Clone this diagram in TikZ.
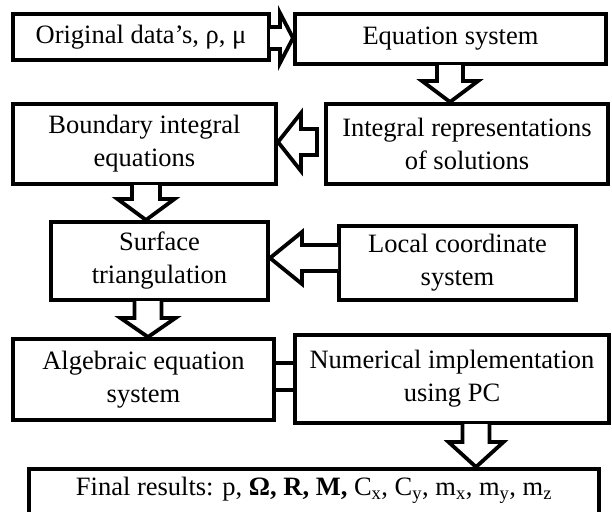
\documentclass[tikz,border=0pt]{standalone}
\usepackage{fontspec}
\setmainfont{Liberation Serif}
\usetikzlibrary{calc}
\tikzset{
  box/.style={draw=black, line width=4pt, fill=white, rectangle, align=center,
    inner sep=0pt, font=\fontsize{26.5}{33}\selectfont},
  txt/.style={inner sep=0pt, align=center, font=\fontsize{26.5}{33}\selectfont},
  blk/.style={draw=black, fill=white, line width=3.8pt, line join=miter},
  conn/.style={draw=black, line width=4.5pt},
}
\newcommand{\blkdown}[6]{%
  \draw[blk] let \p1=(#1.south), \p2=(#2.north) in
  (#3pt-#4pt,\y1+1pt) -- (#3pt-#4pt,\y2+#6pt) -- (#3pt-#5pt,\y2+#6pt) -- (#3pt,\y2)
  -- (#3pt+#5pt,\y2+#6pt) -- (#3pt+#4pt,\y2+#6pt) -- (#3pt+#4pt,\y1+1pt);}
\newcommand{\blkleft}[6]{%
  \draw[blk] let \p1=(#1.west), \p2=(#2.east) in
  (\x1+1pt,#3pt+#4pt) -- (\x2+#6pt,#3pt+#4pt) -- (\x2+#6pt,#3pt+#5pt) -- (\x2,#3pt)
  -- (\x2+#6pt,#3pt-#5pt) -- (\x2+#6pt,#3pt-#4pt) -- (\x1+1pt,#3pt-#4pt);}
\newcommand{\blkleftgap}[7]{%
  \draw[blk] let \p1=(#1.west), \p2=(#2.east) in
  (\x1-#7pt,#3pt+#4pt) -- (\x2+#6pt,#3pt+#4pt) -- (\x2+#6pt,#3pt+#5pt) -- (\x2,#3pt)
  -- (\x2+#6pt,#3pt-#5pt) -- (\x2+#6pt,#3pt-#4pt) -- (\x1-#7pt,#3pt-#4pt) -- cycle;}
\newcommand{\blkright}[6]{%
  \draw[blk] let \p1=(#1.east), \p2=(#2.west) in
  (\x1-1pt,#3pt+#4pt) -- (\x2-#6pt,#3pt+#4pt) -- (\x2-#6pt,#3pt+#5pt) -- (\x2,#3pt)
  -- (\x2-#6pt,#3pt-#5pt) -- (\x2-#6pt,#3pt-#4pt) -- (\x1-1pt,#3pt-#4pt);}
\begin{document}
\begin{tikzpicture}[x=1pt, y=-1pt]
  \useasboundingbox (0,0) rectangle (612,511);
  \clip (0,0) rectangle (612,511);
  \fill[white] (0,0) rectangle (612,511);
  % boxes
  \node[box, minimum width=256pt, minimum height=46pt] (e1) at (141,37) {Original data’s, ρ, μ};
  \node[box, minimum width=311pt, minimum height=50pt] (e2) at (450.5,39) {Equation system};
  \node[box, minimum width=263pt, minimum height=80pt] (e3) at (144.5,144) {Boundary integral\\equations};
  \node[box, minimum width=282pt, minimum height=80pt] (e4) at (467,144) {Integral representations\\of solutions};
  \node[box, minimum width=217pt, minimum height=78pt] (e5) at (159.5,261) {Surface\\triangulation};
  \node[box, minimum width=237pt, minimum height=74pt] (e6) at (457.5,263) {Local coordinate\\system};
  \node[box, minimum width=261pt, minimum height=81pt] (e7) at (143.5,379.5) {Algebraic equation\\system};
  \node[box, minimum width=314pt, minimum height=88pt] (e8) at (452,379) {Numerical implementation\\using PC};
  \node[box, minimum width=570pt, minimum height=60pt] (e9) at (314,499) {};
  \node[txt] (e9t) at (314,490)
    {Final results: p, \textbf{Ω, R, M,} C\textsubscript{x}, C\textsubscript{y}, m\textsubscript{x}, m\textsubscript{y}, m\textsubscript{z}};
  % block arrows
  \blkright{e1}{e2}{-38}{11}{25}{13}
  \blkdown{e2}{e4}{450}{13}{28}{21}
  \blkleftgap{e4}{e3}{-142}{13}{29}{23}{7}
  \blkdown{e3}{e5}{146}{14}{28.5}{21}
  \blkleft{e6}{e5}{-258}{13}{26}{32}
  \blkdown{e5}{e7}{148}{13.5}{27.5}{19}
  \blkdown{e8}{e9}{476}{13.5}{27.5}{25}
  % connector between e7 and e8
  \draw[conn] let \p1=(e7.east), \p2=(e8.west) in (\x1-1pt,-363pt) -- (\x2+1pt,-363pt);
  \draw[conn] let \p1=(e7.east), \p2=(e8.west) in (\x1-1pt,-390pt) -- (\x2+1pt,-390pt);
\end{tikzpicture}
\end{document}
